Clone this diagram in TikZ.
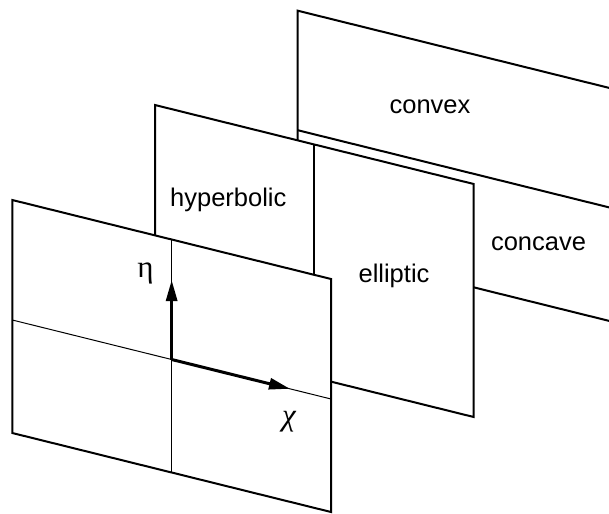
\documentclass[tikz,border=0pt]{standalone}
\usepackage{fontspec}
\setmainfont{Liberation Sans}
\newfontfamily\greekfont{Liberation Serif}
\usetikzlibrary{arrows.meta}

\begin{document}
\begin{tikzpicture}[x=1pt,y=-1pt,
  panel/.style={draw=black,fill=white,line width=2pt,line join=miter},
  divider/.style={draw=black,line width=2pt},
  gridline/.style={draw=black,line width=1pt},
  axis/.style={draw=black,line width=3pt,-{Triangle[length=21pt,width=11pt]}},
  txt/.style={font=\fontsize{25.5}{30}\selectfont,anchor=base,inner sep=0pt},
  greek/.style={font=\greekfont\fontsize{31}{36}\selectfont,anchor=base,inner sep=0pt}]
\useasboundingbox (0,0) rectangle (609,513);
\clip (0,0) rectangle (609,513);

% back sheet: convex above, concave below
\coordinate (b1) at (297.7,10.7);
\coordinate (b2) at (616.4,89.7);
\coordinate (b3) at (616.4,322.7);
\coordinate (b4) at (297.7,243.7);
\coordinate (bl) at (297.7,130.2);
\coordinate (br) at (616.4,209.2);
\draw[panel] (b1) -- (b2) -- (b3) -- (b4) -- cycle;
\draw[divider] (bl) -- (br);

% middle sheet: hyperbolic | elliptic
\coordinate (m1) at (155,105);
\coordinate (m2) at (473.7,184);
\coordinate (m3) at (473.7,417);
\coordinate (m4) at (155,338);
\coordinate (mt) at (314.35,144.5);
\coordinate (mb) at (314.35,377.5);
\draw[panel] (m1) -- (m2) -- (m3) -- (m4) -- cycle;
\draw[divider] (mt) -- (mb);

% front sheet with the coordinate axes
\coordinate (f1) at (12.3,200);
\coordinate (f2) at (331,279);
\coordinate (f3) at (331,512);
\coordinate (f4) at (12.3,433);
\coordinate (ft) at (171.65,239.5);
\coordinate (fb) at (171.65,472.5);
\coordinate (fl) at (12.3,320);
\coordinate (fr) at (331,399);
\coordinate (o) at (171.65,359.5);
\coordinate (etatip) at (171.65,280);
\coordinate (chitip) at (290,388.8);
\draw[panel] (f1) -- (f2) -- (f3) -- (f4) -- cycle;
\draw[gridline] (ft) -- (fb);
\draw[gridline] (fl) -- (fr);
\draw[axis] (o) -- (etatip);
\draw[axis] (o) -- (chitip);

% labels
\node[txt] (convex) at (430,114) {convex};
\node[txt] (concave) at (538.5,250.7) {concave};
\node[txt] (hyperbolic) at (228.3,206.7) {hyperbolic};
\node[txt] (elliptic) at (394,282.7) {elliptic};
\node[greek] (eta) at (145.5,277) {η};
\node[greek,font=\greekfont\itshape\fontsize{31}{36}\selectfont] (chi) at (289,425) {χ};
\end{tikzpicture}
\end{document}
